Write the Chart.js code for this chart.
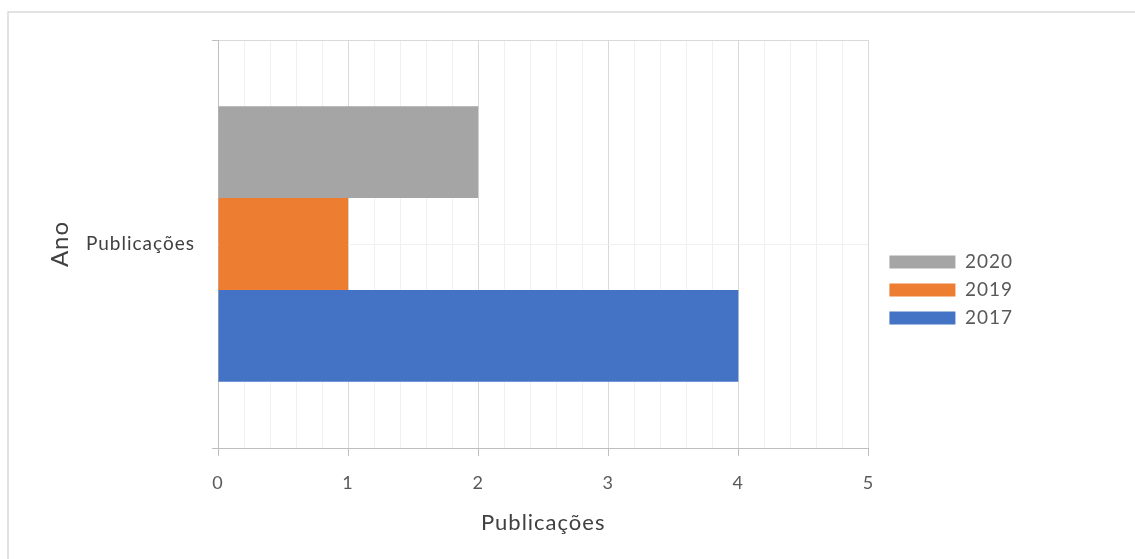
<!DOCTYPE html>
<html>
<head>
<meta charset="utf-8">
<script src="https://cdn.jsdelivr.net/npm/chart.js"></script>
<style>
  html, body { margin: 0; padding: 0; background: #fff; }
</style>
</head>
<body>
<canvas id="grafico" width="1135" height="559"></canvas>
<script>
const categorias = ['Publicações'];
const anos = ['2020', '2019', '2017'];
const valores2020 = [2];
const valores2019 = [1];
const valores2017 = [4];
const cores = ['#A5A5A5', '#ED7D31', '#4472C4'];
const xMin = 0;
const xMax = 5;
const passoMenor = 0.2;

Chart.defaults.font.family = 'Lato, "Open Sans", sans-serif';

const isMajor = (v) => v !== undefined && Math.abs(v - Math.round(v)) < 1e-6;

// moldura do gráfico + linha de grade no meio da categoria
const moldura = {
  id: 'moldura',
  beforeUpdate(chart) {
    chart.ctx.letterSpacing = '1px';
  },
  beforeDraw(chart) {
    const c = chart.ctx;
    c.letterSpacing = '1px';
    c.save();
    c.strokeStyle = '#d9d9d9';
    c.lineWidth = 1.5;
    c.beginPath();
    c.moveTo(8, chart.height);
    c.lineTo(8, 12);
    c.lineTo(chart.width, 12);
    c.stroke();
    c.restore();
  },
  beforeDatasetsDraw(chart) {
    const c = chart.ctx;
    const area = chart.chartArea;
    const y = Math.round(chart.scales.y.getPixelForValue(0)) + 0.5;
    c.save();
    c.strokeStyle = '#f0f0f0';
    c.lineWidth = 1;
    c.beginPath();
    c.moveTo(area.left, y);
    c.lineTo(area.right, y);
    c.stroke();
    c.restore();
  }
};

const datasets = [valores2020, valores2019, valores2017].map((vals, i) => ({
  label: anos[i],
  data: vals,
  backgroundColor: cores[i],
  borderWidth: 0,
  categoryPercentage: 0.675,
  barPercentage: 1.0
}));

new Chart(document.getElementById('grafico'), {
  type: 'bar',
  data: { labels: categorias, datasets },
  options: {
    indexAxis: 'y',
    responsive: false,
    animation: false,
    layout: { padding: { top: 40, bottom: 19, left: 0, right: 112 } },
    plugins: {
      tooltip: { enabled: false },
      legend: {
        position: 'right',
        align: 'center',
        labels: {
          boxWidth: 66,
          boxHeight: 13,
          padding: 9,
          color: '#595959',
          font: { size: 19 }
        }
      }
    },
    scales: {
      x: {
        type: 'linear',
        min: xMin,
        max: xMax,
        grid: {
          color: (ctx) => isMajor(ctx.tick && ctx.tick.value) ? '#d9d9d9' : '#f0f0f0',
          tickColor: (ctx) => isMajor(ctx.tick && ctx.tick.value) ? '#bfbfbf' : 'rgba(0,0,0,0)',
          tickLength: 8
        },
        border: { color: '#bfbfbf' },
        ticks: {
          stepSize: passoMenor,
          autoSkip: false,
          maxRotation: 0,
          padding: 16,
          color: '#595959',
          font: { size: 18 },
          callback: (v) => isMajor(v) ? String(Math.round(v)) : ''
        },
        title: {
          display: true,
          text: 'Publicações',
          color: '#404040',
          font: { size: 22 },
          padding: { top: 4, bottom: 4 }
        },
        afterFit(s) { s.height = 92; }
      },
      y: {
        type: 'category',
        grid: {
          offset: true,
          color: (ctx) => ctx.type === 'tick' ? '#d9d9d9' : '#bfbfbf',
          tickColor: '#bfbfbf',
          tickLength: 6
        },
        border: { color: '#bfbfbf' },
        ticks: {
          padding: 17,
          color: '#404040',
          font: { size: 19 }
        },
        title: {
          display: true,
          text: 'Ano',
          color: '#404040',
          font: { size: 24 },
          padding: { top: 46, bottom: 0 }
        },
        afterFit(s) { s.width = 218; }
      },
      folga: {
        type: 'linear',
        axis: 'y',
        position: 'right',
        grid: { display: false },
        border: { display: false },
        ticks: { display: false },
        afterFit(s) { s.width = 12; }
      }
    }
  },
  plugins: [moldura]
});
</script>
</body>
</html>
